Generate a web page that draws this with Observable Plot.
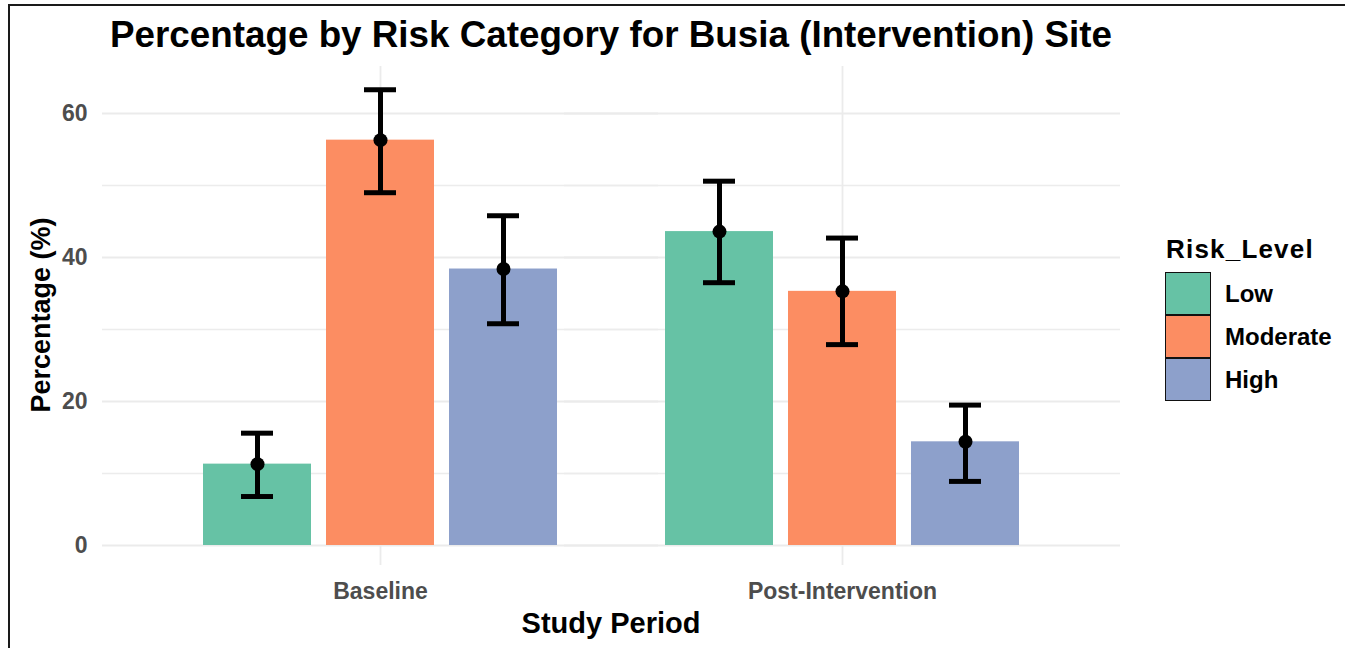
<!DOCTYPE html>
<html><head><meta charset="utf-8">
<script src="https://cdn.jsdelivr.net/npm/d3@7"></script>
<script src="https://cdn.jsdelivr.net/npm/@observablehq/plot@0.6"></script>
<style>
html,body{margin:0;padding:0;background:#fff;overflow:hidden;width:1345px;height:648px;}
#frame{position:absolute;left:8px;top:4px;width:1400px;height:700px;border:2px solid #1a1a1a;box-sizing:border-box;pointer-events:none;z-index:5}
#title{position:absolute;left:0;width:1222px;top:17px;text-align:center;font:bold 36.8px "Liberation Sans",Arial,sans-serif;line-height:1;color:#000;white-space:nowrap}
#chart{position:absolute;left:0;top:60px}
#ylab{position:absolute;left:41px;top:315px;transform:translate(-50%,-50%) rotate(-90deg);font:bold 27px "Liberation Sans",Arial,sans-serif;line-height:1;color:#000;white-space:nowrap}
#xlab{position:absolute;left:0;width:1222px;top:609px;text-align:center;font:bold 29px "Liberation Sans",Arial,sans-serif;line-height:1;color:#000;white-space:nowrap}
#legend{position:absolute;left:1165px;top:236px;font-family:"Liberation Sans",Arial,sans-serif;font-weight:bold;color:#000}
#legend .lt{font-size:26px;letter-spacing:1.2px;line-height:1;margin-bottom:10px;margin-left:1px;white-space:nowrap}
#legend .row{display:flex;align-items:center;height:43px}
#legend .key{width:46px;height:43px;box-sizing:border-box;border:1.5px solid #111;}
#legend .lab{font-size:24px;margin-left:14px;white-space:nowrap}
</style>
</head><body>
<div id="frame"></div>
<div id="title"></div>
<div id="chart"></div>
<div id="ylab"></div>
<div id="xlab"></div>
<div id="legend"></div>
<script>
const titleText = "Percentage by Risk Category for Busia (Intervention) Site";
const xTitle = "Study Period";
const yTitle = "Percentage (%)";
const legendTitle = "Risk_Level";
const periods = ["Baseline", "Post-Intervention"];
const riskLevels = ["Low", "Moderate", "High"];
const riskColors = ["#66c2a5", "#fc8d62", "#8da0cb"];
const baselinePct = [11.3, 56.3, 38.4];
const baselineLo = [6.8, 49.0, 30.8];
const baselineHi = [15.6, 63.3, 45.8];
const postPct = [43.6, 35.3, 14.4];
const postLo = [36.5, 27.9, 8.9];
const postHi = [50.6, 42.7, 19.5];
const yMajorTicks = [0, 20, 40, 60];
const yMinorTicks = [10, 30, 50];

const series = [[baselinePct, baselineLo, baselineHi], [postPct, postLo, postHi]];
const rows = [];
periods.forEach((p, pi) => riskLevels.forEach((r, ri) => rows.push({
  period: p, risk: r, pct: series[pi][0][ri], lo: series[pi][1][ri], hi: series[pi][2][ri]
})));

document.getElementById("title").textContent = titleText;
document.getElementById("xlab").textContent = xTitle;
document.getElementById("ylab").textContent = yTitle;

// gridlines continue past each facet to the panel edges (facet gap = 0.2 step)
const gridExt = -93;

const chart = Plot.plot({
  width: 1345,
  height: 588,
  marginLeft: 102,
  marginRight: 225,
  marginTop: 6,
  marginBottom: 83,
  style: {
    fontFamily: '"Liberation Sans",Arial,sans-serif',
    fontSize: "23px",
    fontWeight: "bold",
    color: "#4d4d4d",
    background: "transparent",
    overflow: "visible"
  },
  facet: {data: rows, x: "period"},
  fx: {domain: periods, paddingInner: 0.2, paddingOuter: 0.2, axis: "bottom", tickSize: 0, tickPadding: 17, label: null},
  x: {domain: riskLevels, paddingInner: 0.125, paddingOuter: 0.0625, axis: null},
  y: {domain: [-2.78, 66.53], ticks: yMajorTicks, tickSize: 0, tickPadding: 108, label: null, tickFormat: d => String(d)},
  color: {domain: riskLevels, range: riskColors},
  marks: [
    Plot.ruleY(yMinorTicks, {stroke: "#ececec", strokeWidth: 1.3, insetLeft: gridExt, insetRight: gridExt}),
    Plot.ruleY(yMajorTicks, {stroke: "#ebebeb", strokeWidth: 1.8, insetLeft: gridExt, insetRight: gridExt}),
    Plot.ruleX([riskLevels[1]], {stroke: "#ebebeb", strokeWidth: 1.8}),
    Plot.barY(rows, {x: "risk", y: "pct", fill: "risk"}),
    Plot.ruleX(rows, {x: "risk", y1: "lo", y2: "hi", stroke: "black", strokeWidth: 5}),
    Plot.tickY(rows, {x: "risk", y: "hi", stroke: "black", strokeWidth: 5, insetLeft: 38, insetRight: 38}),
    Plot.tickY(rows, {x: "risk", y: "lo", stroke: "black", strokeWidth: 5, insetLeft: 38, insetRight: 38}),
    Plot.dot(rows, {x: "risk", y: "pct", r: 7, fill: "black"})
  ]
});
document.getElementById("chart").appendChild(chart);

const leg = document.getElementById("legend");
const lt = document.createElement("div");
lt.className = "lt";
lt.textContent = legendTitle;
leg.appendChild(lt);
riskLevels.forEach((r, i) => {
  const row = document.createElement("div");
  row.className = "row";
  const k = document.createElement("div");
  k.className = "key";
  k.style.background = riskColors[i];
  const l = document.createElement("div");
  l.className = "lab";
  l.textContent = r;
  row.appendChild(k);
  row.appendChild(l);
  leg.appendChild(row);
});
</script>
</body></html>
